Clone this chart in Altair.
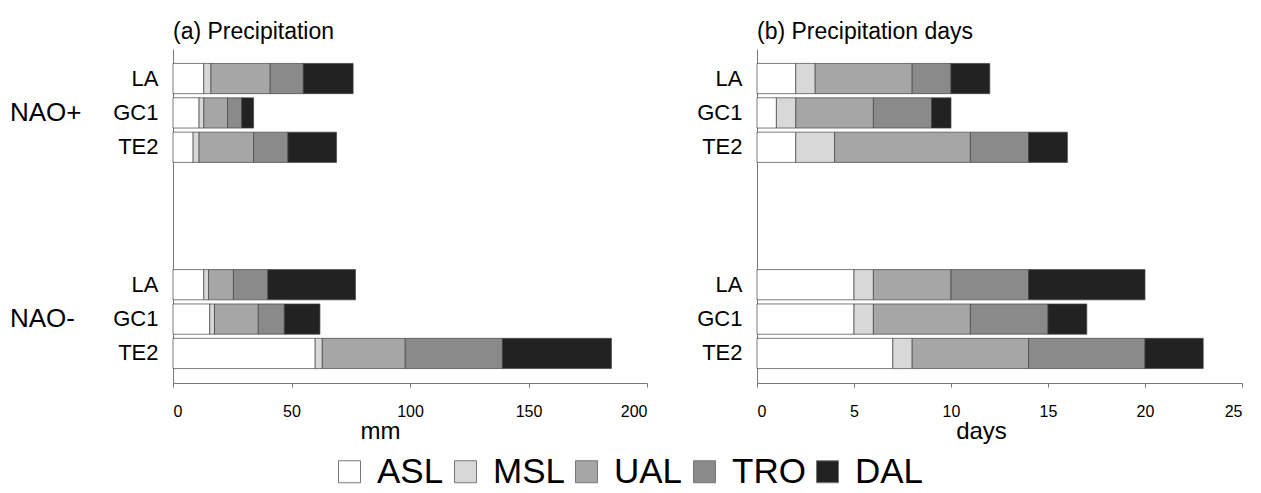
import altair as alt
import pandas as pd

components = ["ASL", "MSL", "UAL", "TRO", "DAL"]
comp_colors = ["#ffffff", "#d8d8d8", "#a6a6a6", "#8a8a8a", "#222222"]
stations = ["LA", "GC1", "TE2"]
row_domain = ["+LA", "+GC1", "+TE2", "s1", "s2", "s3", "-LA", "-GC1", "-TE2"]

# (a) Precipitation, mm  (segments ASL, MSL, UAL, TRO, DAL)
precip_pos_LA = [13, 3, 25, 14, 21]
precip_pos_GC1 = [11, 2, 10, 6, 5]
precip_pos_TE2 = [8.5, 2.5, 23, 14.5, 20.5]
precip_neg_LA = [13, 2, 10.5, 14.5, 37]
precip_neg_GC1 = [15.5, 2, 18.5, 11, 15]
precip_neg_TE2 = [60, 3, 35, 41, 46]

# (b) Precipitation days
days_pos_LA = [2, 1, 5, 2, 2]
days_pos_GC1 = [1, 1, 4, 3, 1]
days_pos_TE2 = [2, 2, 7, 3, 2]
days_neg_LA = [5, 1, 4, 4, 6]
days_neg_GC1 = [5, 1, 5, 4, 2]
days_neg_TE2 = [7, 1, 6, 6, 3]

precip_x_ticks = [0, 50, 100, 150, 200]
days_x_ticks = [0, 5, 10, 15, 20, 25]

FONT = "Liberation Sans"


def build(groups):
    recs = []
    for key, vals in groups.items():
        for i, (c, v) in enumerate(zip(components, vals)):
            recs.append({"row": key, "comp": c, "value": v, "ord": i})
    return pd.DataFrame(recs)


df_a = build({"+LA": precip_pos_LA, "+GC1": precip_pos_GC1, "+TE2": precip_pos_TE2,
              "-LA": precip_neg_LA, "-GC1": precip_neg_GC1, "-TE2": precip_neg_TE2})
df_b = build({"+LA": days_pos_LA, "+GC1": days_pos_GC1, "+TE2": days_pos_TE2,
              "-LA": days_neg_LA, "-GC1": days_neg_GC1, "-TE2": days_neg_TE2})

nao_df = pd.DataFrame({"row": ["+GC1", "-GC1"], "t": ["NAO+", "NAO-"]})

legend = alt.Legend(
    orient="none", legendX=159, legendY=405, direction="horizontal", title=None,
    symbolType="square", symbolSize=484, symbolStrokeColor="#777", symbolStrokeWidth=1,
    symbolOpacity=1, labelFontSize=35, labelFont=FONT, labelColor="#000",
    labelOffset=10, columnPadding=4,
)

y_scale = alt.Scale(domain=row_domain, paddingInner=0.12, paddingOuter=0.42)
y_enc = alt.Y(
    "row:N",
    scale=y_scale,
    axis=alt.Axis(title=None, ticks=False, labelPadding=15, labelFontSize=22,
                  labelExpr="indexof(datum.value, 's') == 0 ? '' : slice(datum.value, 1)"),
)


def panel(df, domain, ticks, xtitle, title_x, title, width):
    return alt.Chart(df).mark_bar(stroke="#444", strokeWidth=0.7).encode(
        x=alt.X("value:Q", stack="zero",
                scale=alt.Scale(domain=domain, nice=False),
                axis=alt.Axis(values=ticks, title=xtitle, grid=False, tickSize=4,
                              labelPadding=16, labelFontSize=16, titleFontSize=24,
                              titleFontWeight="normal", titleX=title_x, titleAlign="center",
                              titlePadding=0)),
        y=y_enc,
        color=alt.Color("comp:N", scale=alt.Scale(domain=components, range=comp_colors),
                        legend=legend),
        order=alt.Order("ord:Q"),
    ).properties(
        width=width, height=334,
        title=alt.TitleParams(title, anchor="start", frame="group", fontSize=23,
                              font=FONT, fontWeight="normal", offset=5, color="#000"),
    )


left_bars = panel(df_a, [0, 200], precip_x_ticks, "mm", 207, "(a) Precipitation", 474)
nao_text = alt.Chart(nao_df).mark_text(align="left", baseline="middle", fontSize=26,
                                        font=FONT, color="#000").encode(
    y=alt.Y("row:N", scale=y_scale),
    x=alt.value(-163),
    text="t:N",
)
left = alt.layer(left_bars, nao_text)
right = panel(df_b, [0, 25], days_x_ticks, "days", 224, "(b) Precipitation days", 485)

chart = alt.hconcat(left, right, spacing=48).properties(
    padding={"left": 2, "top": 13, "right": 5, "bottom": 5}
).configure_view(stroke=None).configure_axis(
    domainColor="#777", tickColor="#777", labelColor="#000", titleColor="#000",
    labelFont=FONT, titleFont=FONT,
)

chart.save("out.html", embed_options={"renderer": "svg", "actions": False})
